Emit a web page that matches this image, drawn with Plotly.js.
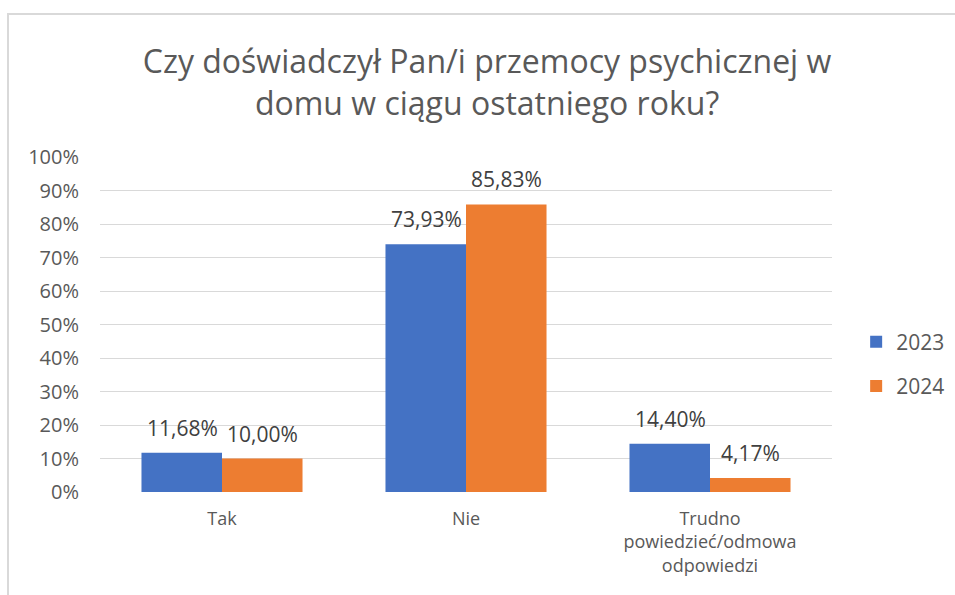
<!DOCTYPE html>
<html><head><meta charset="utf-8">
<script src="https://cdn.plot.ly/plotly-3.0.1.min.js"></script>
<style>
html,body{margin:0;padding:0;background:#fff;overflow:hidden;}
#frame{position:absolute;left:7px;top:13px;width:1200px;height:900px;border-left:2px solid #d9d9d9;border-top:2px solid #d9d9d9;box-sizing:border-box;pointer-events:none;z-index:5;}
#chart{position:absolute;left:0;top:0;width:955px;height:595px;}
</style></head>
<body>
<div id="chart"></div><div id="frame"></div>
<script>
const categories = ["Tak", "Nie", "Trudno<br>powiedzieć/odmowa<br>odpowiedzi"];
const years = ["2023", "2024"];
const values2023 = [11.68, 73.93, 14.40];
const values2024 = [10.00, 85.83, 4.17];
const labels2023 = ["11,68%", "73,93%", "14,40%"];
const labels2024 = ["10,00%", "85,83%", "4,17%"];
const yTicks = [0,10,20,30,40,50,60,70,80,90,100];
const yTickText = ["0%","10%","20%","30%","40%","50%","60%","70%","80%","90%","100%"];

const FONT = "Open Sans, Liberation Sans, sans-serif";
const traces = [
  {type:'bar', name:years[0], x:categories, y:values2023, marker:{color:'#4472C4'}, legendgroup:'a', hoverinfo:'none'},
  {type:'bar', name:years[1], x:categories, y:values2024, marker:{color:'#ED7D31'}, legendgroup:'b', hoverinfo:'none'}
];
const annotations = [];
categories.forEach((c,i)=>{
  annotations.push({x:c, y:values2023[i], xref:'x', yref:'y', text:labels2023[i], showarrow:false, yanchor:'bottom', xshift:-40, yshift:9, font:{size:21, color:'#404040', family:FONT}});
  annotations.push({x:c, y:values2024[i], xref:'x', yref:'y', text:labels2024[i], showarrow:false, yanchor:'bottom', xshift:40, yshift:9, font:{size:21, color:'#404040', family:FONT}});
});
const layout = {
  width:955, height:595,
  margin:{l:100, r:123, t:157, b:103, autoexpand:false},
  paper_bgcolor:'#fff', plot_bgcolor:'#fff',
  font:{family:FONT, color:'#595959'},
  title:{text:'Czy doświadczył Pan/i przemocy psychicznej w<br>domu w ciągu ostatniego roku?', x:0.51, xanchor:'center', y:0.877, yanchor:'middle', font:{size:32, color:'#595959', family:FONT}},
  barmode:'group', bargap:0.34, bargroupgap:0,
  xaxis:{type:'category', showline:false, ticks:'', tickfont:{size:18, color:'#595959'}, showgrid:false, zeroline:false, ticklabelstandoff:14, automargin:false},
  yaxis:{range:[0,100], tickvals:yTicks, ticktext:yTickText, tickfont:{size:20, color:'#595959'}, showgrid:true, gridcolor:'#d9d9d9', gridwidth:1, zeroline:false, showline:false, ticks:'', ticklabelstandoff:20, fixedrange:true, automargin:false},
  legend:{x:1.033, xanchor:'left', y:0.382, yanchor:'middle', font:{size:21, color:'#595959'}, tracegroupgap:14, itemwidth:30, bgcolor:'rgba(0,0,0,0)'},
  annotations:annotations,
  showlegend:true
};
Plotly.newPlot('chart', traces, layout, {displayModeBar:false, staticPlot:true});
</script>
</body></html>
